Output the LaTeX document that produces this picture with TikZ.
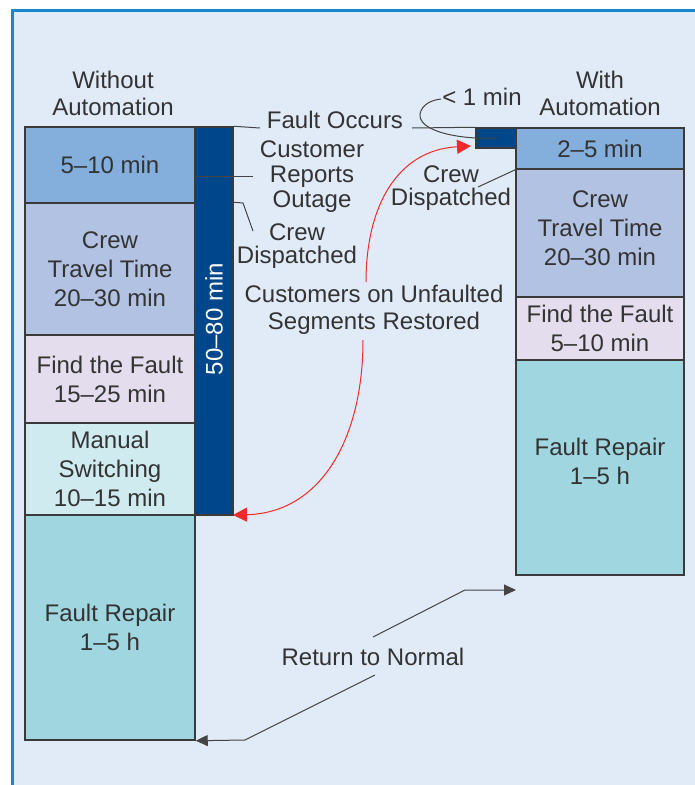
\documentclass[tikz,border=0pt]{standalone}
\usepackage{fontspec}
\setmainfont{Liberation Sans}
\usetikzlibrary{arrows.meta}
\definecolor{bgc}{HTML}{E1EBF7}
\definecolor{framec}{HTML}{1A86CC}
\definecolor{cA}{HTML}{84AEDB}
\definecolor{cB}{HTML}{B2C2E2}
\definecolor{cC}{HTML}{E3DDED}
\definecolor{cD}{HTML}{D0EBF0}
\definecolor{cE}{HTML}{A0D6DF}
\definecolor{darkbar}{HTML}{00468B}
\definecolor{txt}{HTML}{333333}
\definecolor{boxline}{HTML}{3A3A3A}
\definecolor{leadc}{HTML}{444444}
\definecolor{redc}{HTML}{EE2A2A}
\begin{document}
\begin{tikzpicture}[x=1pt,y=-1pt,
  box/.style={draw=boxline, line width=1.5pt, inner sep=0pt, align=center, text=txt, font=\fontsize{24}{29}\selectfont},
  lbl/.style={align=center, text=txt, inner sep=0pt, font=\fontsize{24}{27}\selectfont},
  boxlbl/.style={align=center, text=txt, inner sep=0pt, font=\fontsize{24}{29}\selectfont},
  lead/.style={draw=leadc, line width=1pt},
  redarrow/.style={draw=redc, line width=1pt, -{Triangle[length=14pt,width=14pt]}},
  blackarrow/.style={draw=leadc, line width=1pt, -{Triangle[length=12pt,width=11pt]}}
]
\useasboundingbox (0,0) rectangle (695,785);
\fill[bgc] (12,10) rectangle (695,785);
\draw[framec, line width=3pt] (12,785) -- (12,10) -- (695,10);

% left column
\node[box, fill=cA, minimum width=170pt, minimum height=76pt] (l1) at (110,165) {5--10 min};
\node[box, fill=cB, minimum width=170pt, minimum height=132pt] (l2) at (110,269) {Crew\\Travel Time\\20--30 min};
\node[box, fill=cC, minimum width=170pt, minimum height=88pt] (l3) at (110,379) {Find the Fault\\15--25 min};
\node[box, fill=cD, minimum width=170pt, minimum height=92pt] (l4) at (110,469) {Manual\\Switching\\10--15 min};
\node[box, fill=cE, minimum width=170pt, minimum height=225pt] (l5) at (110,627.5) {Fault Repair\\1--5 h};
\node[box, fill=darkbar, minimum width=38pt, minimum height=388pt] (bar) at (214,321) {};
\node[rotate=90, text=white, inner sep=0pt, font=\fontsize{24}{27}\selectfont] (barlbl) at (214,319) {50--80 min};

% right column
\node[box, fill=cA, minimum width=168pt, minimum height=41pt] (r1) at (600,148.5) {2--5 min};
\node[box, fill=cB, minimum width=168pt, minimum height=128pt] (r2) at (600,233) {};
\node[boxlbl] (r2t) at ([yshift=5pt]r2.center) {Crew\\Travel Time\\20--30 min};
\node[box, fill=cC, minimum width=168pt, minimum height=63pt] (r3) at (600,328.5) {Find the Fault\\5--10 min};
\node[box, fill=cE, minimum width=168pt, minimum height=215pt] (r4) at (600,467.5) {};
\node[boxlbl] (r4t) at ([yshift=6pt]r4.center) {Fault Repair\\1--5 h};
\node[box, fill=darkbar, minimum width=40pt, minimum height=20pt] (sq) at (496,138) {};

% labels
\node[lbl] (wo) at (113,93) {Without\\Automation};
\node[lbl] (wi) at (600,93) {With\\Automation};
\node[lbl] (fo) at (335,120) {Fault Occurs};
\node[lbl, font=\fontsize{24}{25}\selectfont] (cro) at (312,177) {Customer\\Reports\\Outage};
\node[lbl, font=\fontsize{24}{23.5}\selectfont] (cd1) at (297,246) {Crew\\Dispatched};
\node[lbl] (cus) at (374,310) {Customers on Unfaulted\\Segments Restored};
\node[lbl, font=\fontsize{24}{23.5}\selectfont] (cd2) at (451,188) {Crew\\Dispatched};
\node[lbl] (lt1) at (482,97) {< 1 min};
\node[lbl] (rtn) at (373,657) {Return to Normal};

% leaders
\coordinate (foL) at (260,128);
\coordinate (foR) at (412,128);
\coordinate (crL) at (253,176);
\coordinate (crS) at (195,176);
\coordinate (cdK) at (243,203);
\coordinate (cdE) at (253,231);
\coordinate (cd2E) at (478,187);
\draw[lead] (bar.north east) -- (foL);
\draw[lead] (foR) -- (sq.north west);
\draw[lead] (crS) -- (crL);
\draw[lead] (l2.north -| bar.east) -- (cdK) -- (cdE);
\draw[lead] (cd2E) -- (r1.south west);

% < 1 min curve
\coordinate (lt1S) at (497,138);
\coordinate (lt1E) at (441,99);
\draw[lead] (lt1S) -- (476,138) .. controls (440,136) and (418,126) .. (420,114) .. controls (422,104) and (432,100) .. (lt1E);

% red curves
\coordinate (redA) at (366,282);
\coordinate (redT) at (471,146);
\coordinate (redB) at (363,340);
\coordinate (redT2) at (233,515);
\draw[redarrow] (redA) .. controls (366,205) and (398,150) .. (redT);
\draw[redarrow] (redB) .. controls (363,440) and (320,513) .. (redT2);

% return to normal
\coordinate (rn1) at (373,637);
\coordinate (rn1k) at (465,590);
\coordinate (rn1e) at (516,590);
\coordinate (rn2) at (375,675);
\coordinate (rn2k) at (245,740);
\draw[blackarrow] (rn1) -- (rn1k) -- (rn1e);
\draw[blackarrow] (rn2) -- (rn2k) -- (l5.south east);
\end{tikzpicture}
\end{document}
